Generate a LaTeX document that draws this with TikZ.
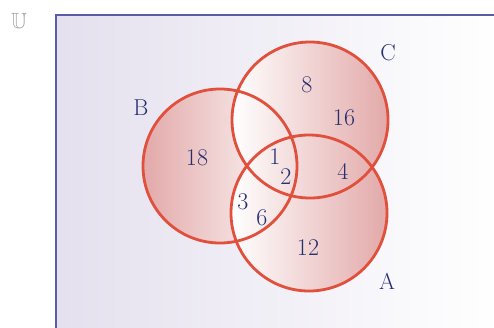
\documentclass[tikz,border=0pt]{standalone}
\usepackage{amsmath,amssymb}
\usepackage{xcolor}
\usetikzlibrary{positioning}

\definecolor{setred}{HTML}{E0503C}
\definecolor{setpink}{HTML}{E3A9A9}
\definecolor{navy}{HTML}{27306E}
\definecolor{frame}{HTML}{5C5CA6}
\definecolor{lav}{HTML}{E4E0EE}

\begin{document}
\begin{tikzpicture}[
  x=1pt, y=-1pt,
  lab/.style={text=navy, font=\fontsize{23}{25}\selectfont, inner sep=0pt},
  num/.style={text=navy, font=\fontsize{24}{26}\selectfont, inner sep=0pt},
  ring/.style={draw=setred, line width=2.8pt}
]
\useasboundingbox (0,0) rectangle (494,327);
\clip (0,0) rectangle (494,327);
% universal set
\shade[left color=lav, right color=white] (56,15) rectangle (500,335);
\draw[frame, line width=2.4pt] (56,340) -- (56,15) -- (500,15);
\node[text=gray!70, font=\fontsize{22}{24}\selectfont] (U) at (19,21) {$\mathbb{U}$};
% sets
\shade[left color=setpink, right color=white] (220,166) circle (77);
\shade[left color=white, right color=setpink] (310,120) circle (78);
\shade[left color=white, right color=setpink] (309,213) circle (78);
\draw[ring] (220,166) circle (77);
\draw[ring] (310,120) circle (78);
\draw[ring] (309,213) circle (78);
% set names
\node[lab] (B) at (141,108) {B};
\node[lab] (C) at (388,53) {C};
\node[lab] (A) at (387,281) {A};
% counts
\node[num] (n8) at (307,85) {8};
\node[num] (n16) at (344,118) {16};
\node[num] (n18) at (197,158) {18};
\node[num] (n1) at (275,157) {1};
\node[num] (n2) at (286,177) {2};
\node[num] (n4) at (343,171) {4};
\node[num] (n3) at (243,202) {3};
\node[num] (n6) at (262,218) {6};
\node[num] (n12) at (308,248) {12};
\end{tikzpicture}
\end{document}
